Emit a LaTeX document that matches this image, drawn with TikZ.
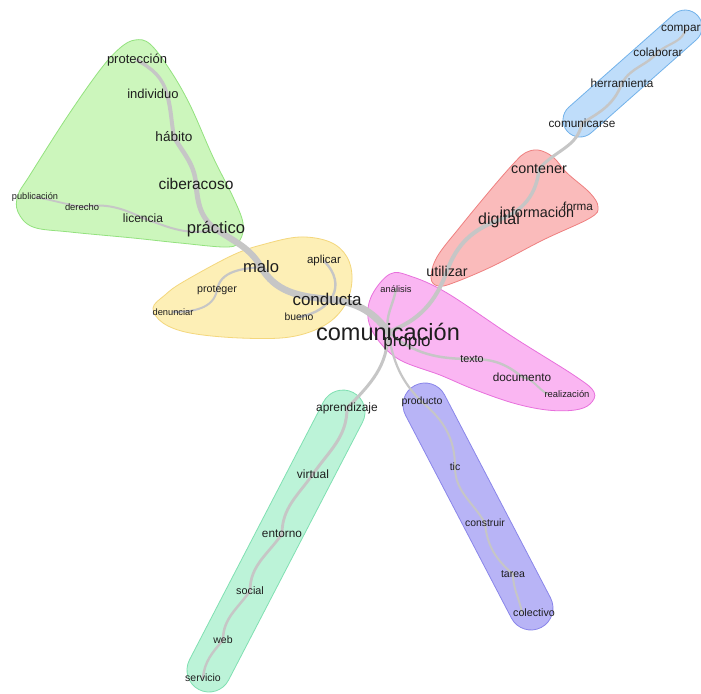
\documentclass[tikz,border=0pt]{standalone}
\usepackage{fontspec}
\setmainfont{Liberation Sans}
\definecolor{linkgray}{HTML}{C6C6C6}
\definecolor{wordcol}{HTML}{1E1E1E}
\definecolor{grnfill}{HTML}{CCF6BC}\definecolor{grnedge}{HTML}{93E27E}
\definecolor{yelfill}{HTML}{FDEFB6}\definecolor{yeledge}{HTML}{F4D77C}
\definecolor{pnkfill}{HTML}{FAB6F2}\definecolor{pnkedge}{HTML}{E870DC}
\definecolor{redfill}{HTML}{FABBBB}\definecolor{rededge}{HTML}{EE8080}
\definecolor{blufill}{HTML}{BFDDFA}\definecolor{bluedge}{HTML}{72B2EA}
\definecolor{mntfill}{HTML}{BCF3D8}\definecolor{mntedge}{HTML}{80E0B2}
\definecolor{prpfill}{HTML}{B8B4F6}\definecolor{prpedge}{HTML}{8A86EA}
\pgfdeclarelayer{blobs}
\pgfdeclarelayer{links}
\pgfsetlayers{blobs,links,main}
\tikzset{
  word/.style={font=\fontsize{#1}{#1}\selectfont, inner sep=0pt, text=wordcol},
  link/.style={draw=linkgray, line width=#1, line cap=round},
  blob/.style={fill=#1fill, draw=#1edge, line width=0.8pt},
}
\begin{document}
\begin{tikzpicture}[x=1pt,y=1pt]
\useasboundingbox (0,0) rectangle (701,-693);

% ---------- words ----------
\node[word=23.5] (com) at (388,-332) {comunicación};
\node[word=17] (propio) at (407,-342) {propio};
\node[word=17] (conducta) at (327,-299) {conducta};
\node[word=16.6] (malo) at (261,-267) {malo};
\node[word=16.6] (practico) at (216,-229) {práctico};
\node[word=15.5] (ciber) at (196,-184) {ciberacoso};
\node[word=13.6] (habito) at (174,-137) {hábito};
\node[word=13] (individuo) at (153,-94) {individuo};
\node[word=13] (proteccion) at (137,-60) {protección};
\node[word=12] (licencia) at (143,-218) {licencia};
\node[word=9.4] (derecho) at (82,-207) {derecho};
\node[word=9.2] (publicacion) at (35,-197) {publicación};
\node[word=11.5] (aplicar) at (324,-261) {aplicar};
\node[word=10.4] (bueno) at (299,-317) {bueno};
\node[word=10.7] (proteger) at (217,-290) {proteger};
\node[word=9.3] (denunciar) at (173,-312) {denunciar};
\node[word=9.3] (analisis) at (396,-289) {análisis};
\node[word=10.8] (texto) at (472,-359) {texto};
\node[word=11.8] (documento) at (522,-377) {documento};
\node[word=9.4] (realizacion) at (567,-394) {realización};
\node[word=14.3] (utilizar) at (447,-271) {utilizar};
\node[word=16] (digital) at (499,-220) {digital};
\node[word=14.4] (informacion) at (537,-212) {información};
\node[word=11.7] (forma) at (578,-206) {forma};
\node[word=14.3] (contener) at (539,-169) {contener};
\node[word=11.8] (comunicarse) at (582,-123) {comunicarse};
\node[word=11.8] (herramienta) at (622,-83) {herramienta};
\node[word=11.8] (colaborar) at (658,-52) {colaborar};
\node[word=11.8, anchor=west] (compartir) at (661,-28) {compartir};
\node[word=11.9] (aprendizaje) at (347,-408) {aprendizaje};
\node[word=12] (virtual) at (313,-474) {virtual};
\node[word=11.8] (entorno) at (282,-534) {entorno};
\node[word=10.8] (social) at (250,-591) {social};
\node[word=10.5] (web) at (223,-640) {web};
\node[word=10.5] (servicio) at (203,-678) {servicio};
\node[word=10.5] (producto) at (422,-402) {producto};
\node[word=10.5] (tic) at (455,-467) {tic};
\node[word=10.4] (construir) at (485,-523) {construir};
\node[word=10.5] (tarea) at (513,-574) {tarea};
\node[word=10.7] (colectivo) at (534,-613) {colectivo};

% ---------- community halos ----------
\begin{pgfonlayer}{blobs}
\fill[white] (0,0) rectangle (701,-693);
\draw[blob=grn] plot[smooth cycle, tension=0.6] coordinates {
  (135,-40) (150,-44) (170,-70) (190,-105) (213,-157) (233,-197) (243,-223)
  (240,-240) (228,-247) (180,-243) (133,-238) (70,-232) (33,-227) (18,-212)
  (18,-195) (30,-175) (67,-117) (100,-70) (120,-48)};
\draw[blob=yel] plot[smooth cycle, tension=0.6] coordinates {
  (153,-308) (165,-295) (183,-282) (233,-255) (265,-244) (300,-237) (330,-242)
  (347,-257) (352,-280) (345,-305) (325,-325) (290,-337) (240,-338) (190,-333)
  (163,-323)};
\draw[blob=red] plot[smooth cycle, tension=0.6] coordinates {
  (538,-150) (553,-157) (567,-173) (590,-193) (598,-207) (590,-218) (543,-240)
  (493,-266) (453,-283) (438,-286) (431,-278) (437,-257) (460,-227) (493,-187)
  (515,-162) (525,-153)};
\draw[blob=pnk] plot[smooth cycle, tension=0.6] coordinates {
  (390,-274) (410,-276) (447,-293) (513,-337) (575,-376) (594,-392) (590,-404)
  (575,-410) (547,-410) (513,-403) (473,-389) (440,-375) (400,-360) (378,-340)
  (368,-318) (372,-295)};
\begin{scope}[shift={(580,-120)}, rotate=41.5]
  \draw[blob=blu, rounded corners=17pt] (-17,-17) rectangle (157.3,17);
\end{scope}
\begin{scope}[shift={(209,-670)}, rotate=62.55]
  \draw[blob=mnt, rounded corners=22pt] (-22,-22) rectangle (312.7,22);
\end{scope}
\begin{scope}[shift={(425,-405)}, rotate=-62.43]
  \draw[blob=prp, rounded corners=22pt] (-22,-22) rectangle (251,22);
\end{scope}
\end{pgfonlayer}

% ---------- links ----------
\begin{pgfonlayer}{links}
% behaviour branch
\draw[link=7pt] (com.center) to[out=125,in=-5] (conducta.center);
\draw[link=6.8pt] (conducta.center) to[out=175,in=-60] (malo.center);
\draw[link=6.3pt] (malo.center) to[out=120,in=-35] (practico.center);
\draw[link=5pt] (practico.center) to[out=145,in=-85] (ciber.center);
\draw[link=4.5pt] (ciber.center) to[out=95,in=-60] (habito.center);
\draw[link=4pt] (habito.center) to[out=100,in=-75] ([xshift=14pt]individuo.center);
\draw[link=3.4pt] ([xshift=14pt]individuo.center) to[out=105,in=-30] (proteccion.center);
\draw[link=2pt] (practico.center) to[out=195,in=-20] (licencia.center);
\draw[link=2pt] (licencia.center) to[out=155,in=10] (derecho.center);
\draw[link=1.8pt] (derecho.center) to[out=170,in=-10] (publicacion.center);
\draw[link=2.2pt] (malo.center) to[out=185,in=80] (proteger.center);
\draw[link=2pt] (proteger.center) to[out=-100,in=0] (denunciar.center);
\draw[link=2.4pt] (aplicar.center) to[out=-45,in=10,looseness=1.4] (bueno.center);
\draw[link=2.4pt] (com.center) to[out=100,in=-100] (analisis.center);
% information branch
\draw[link=4pt] (com.center) to[out=20,in=-110] (utilizar.center);
\draw[link=4pt] (utilizar.center) to[out=70,in=-160] (digital.center);
\draw[link=3.5pt] (digital.center) to[out=20,in=-95] (contener.center);
\draw[link=3pt] (contener.center) to[out=50,in=-100] (comunicarse.center);
\draw[link=2.6pt] (comunicarse.center) to[out=30,in=-110] (herramienta.center);
\draw[link=2.4pt] (herramienta.center) to[out=60,in=-130] (colaborar.center);
\draw[link=2.2pt] (colaborar.center) to[out=40,in=-100] (compartir.center);
% document branch
\draw[link=2.5pt] (com.center) to[out=-40,in=180] (texto.center);
\draw[link=2.4pt] (texto.center) to[out=0,in=140] (documento.center);
\draw[link=2pt] (documento.center) to[out=-10,in=150] ([xshift=3pt]realizacion.west);
% learning branch
\draw[link=3pt] (com.center) to[out=-90,in=45] (aprendizaje.center);
\draw[link=3pt] (aprendizaje.center) to[out=-90,in=55] (virtual.center);
\draw[link=2.8pt] (virtual.center) to[out=-125,in=90] (entorno.center);
\draw[link=2.7pt] (entorno.center) to[out=-125,in=90] (social.center);
\draw[link=2.5pt] (social.center) to[out=-125,in=90] (web.center);
\draw[link=2.4pt] (web.center) to[out=-130,in=85] (servicio.center);
% product branch
\draw[link=2.2pt] (com.center) to[out=-80,in=135] (producto.center);
\draw[link=2pt] (producto.center) to[out=-40,in=90] (tic.center);
\draw[link=2pt] (tic.center) to[out=-90,in=120] (construir.center);
\draw[link=2pt] (construir.center) to[out=-85,in=140] (tarea.center);
\draw[link=2pt] (tarea.center) to[out=-90,in=100] ([xshift=-12pt]colectivo.center);
\end{pgfonlayer}
\end{tikzpicture}
\end{document}
